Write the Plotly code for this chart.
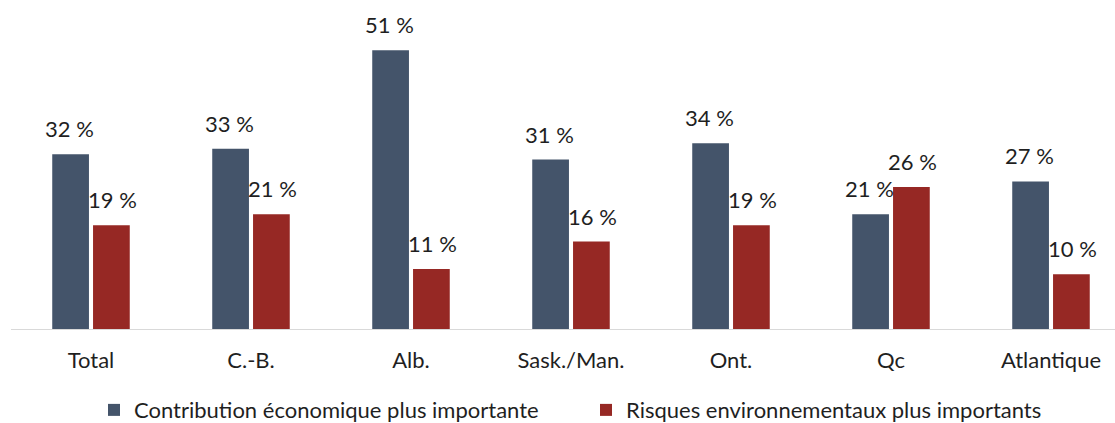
import plotly.graph_objects as go

categories = ["Total", "C.-B.", "Alb.", "Sask./Man.", "Ont.", "Qc", "Atlantique"]
contribution = [32, 33, 51, 31, 34, 21, 27]
risques = [19, 21, 11, 16, 19, 26, 10]
series_names = ["Contribution économique plus importante", "Risques environnementaux plus importants"]

FONT = "Lato"
FS = 22
blue = "#44546A"
red = "#962824"
txt = "#1f1f1f"

fig = go.Figure()
fig.add_bar(x=categories, y=contribution, name=series_names[0], marker_color=blue,
            marker_line_width=0)
fig.add_bar(x=categories, y=risques, name=series_names[1], marker_color=red,
            marker_line_width=0)

# value labels above the bars
offset = 0.135
for i, (c, r) in enumerate(zip(contribution, risques)):
    fig.add_annotation(x=i - offset, y=c, text=f"{c} %", showarrow=False,
                       yanchor="bottom", yshift=10, xref="x", yref="y",
                       font=dict(family=FONT, size=FS, color=txt))
    fig.add_annotation(x=i + offset, y=r, text=f"{r} %", showarrow=False,
                       yanchor="bottom", yshift=10, xref="x", yref="y",
                       font=dict(family=FONT, size=FS, color=txt))

fig.update_layout(
    width=1115, height=423,
    margin=dict(l=11, r=0, t=23, b=94, autoexpand=False),
    plot_bgcolor="white", paper_bgcolor="white",
    barmode="group", bargap=0.49, bargroupgap=0.1,
    font=dict(family=FONT, size=FS, color=txt),
    showlegend=True,
    legend=dict(orientation="h", x=(94 - 11) / 1104, xanchor="left", y=-0.265, yanchor="middle",
                font=dict(family=FONT, size=FS, color=txt),
                itemwidth=30, traceorder="normal", entrywidth=447, entrywidthmode="pixels"),
    xaxis=dict(type="category", range=[-0.5, 6.4], showline=True, linecolor="#d9d9d9",
               linewidth=1, showgrid=False, ticks="", ticklabelstandoff=12,
               tickfont=dict(family=FONT, size=FS, color=txt)),
    yaxis=dict(range=[0, 56], visible=False, showgrid=False, zeroline=False),
)

fig.write_html("out.html", config={"displayModeBar": False},
               post_script="document.body.style.margin='0';")
